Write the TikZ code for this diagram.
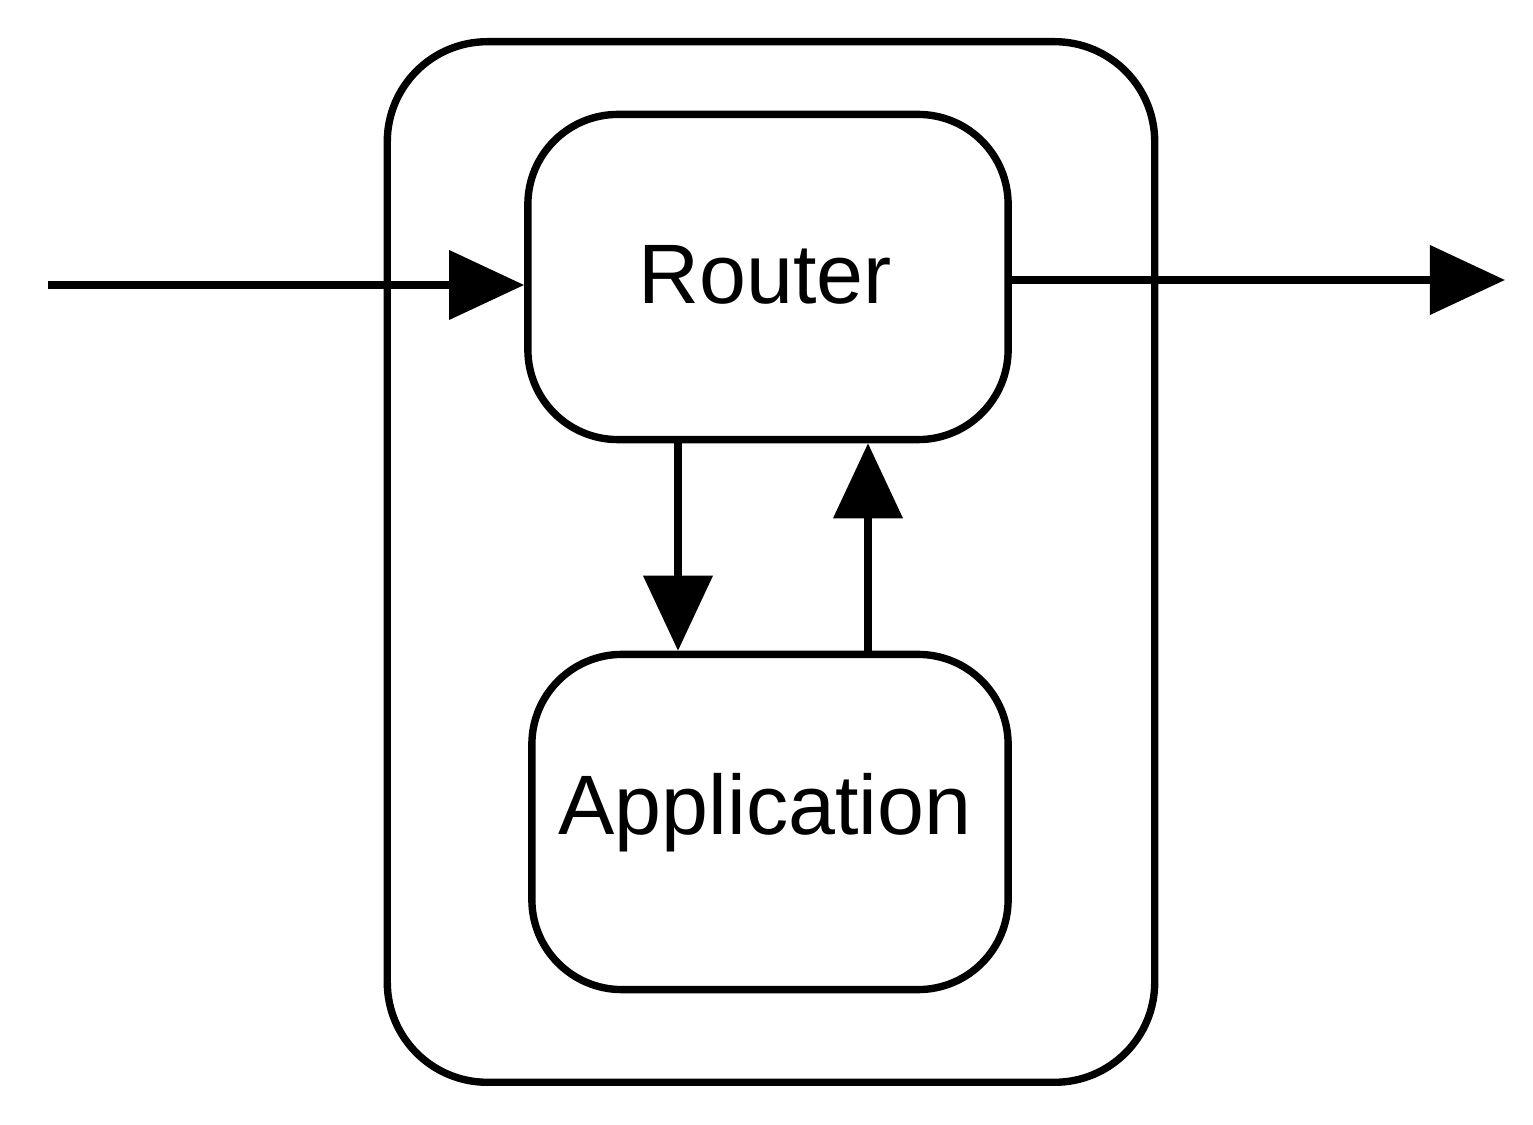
\documentclass[tikz,border=0pt]{standalone}
\usepackage{fontspec}
\setmainfont{Liberation Sans}
\usetikzlibrary{arrows.meta}
\begin{document}
\begin{tikzpicture}[x=0.01cm,y=-0.01cm,
  box/.style={draw,line width=2.1pt,rounded corners=0.9cm,inner sep=0pt},
  outer/.style={draw,line width=2.1pt,rounded corners=1cm,inner sep=0pt},
  lbl/.style={font=\fontsize{24}{28}\selectfont},
  conn/.style={line width=2.1pt,-{Triangle[length=0.75cm,width=0.68cm]}}]
\useasboundingbox (0,0) rectangle (1533,1125);
\node[outer,minimum width=7.67cm,minimum height=10.4cm] (outer) at (771,562) {};
\node[box,minimum width=4.8cm,minimum height=3.25cm] (router) at (768,277) {};
\node[box,minimum width=4.76cm,minimum height=3.35cm] (app) at (770,822) {};
\node[lbl] (rt) at (765,275) {Router};
\node[lbl] (at) at (765,813) {Application};
\coordinate (in) at (48,285);
\coordinate (out) at (1505,280);
\draw[conn] (in) -- (router.west |- in);
\draw[conn] (router.east |- out) -- (out);
\draw[conn] (router.south -| 678,0) -- (app.north -| 678,0);
\draw[conn] (app.north -| 868,0) -- (router.south -| 868,0);
\end{tikzpicture}
\end{document}
